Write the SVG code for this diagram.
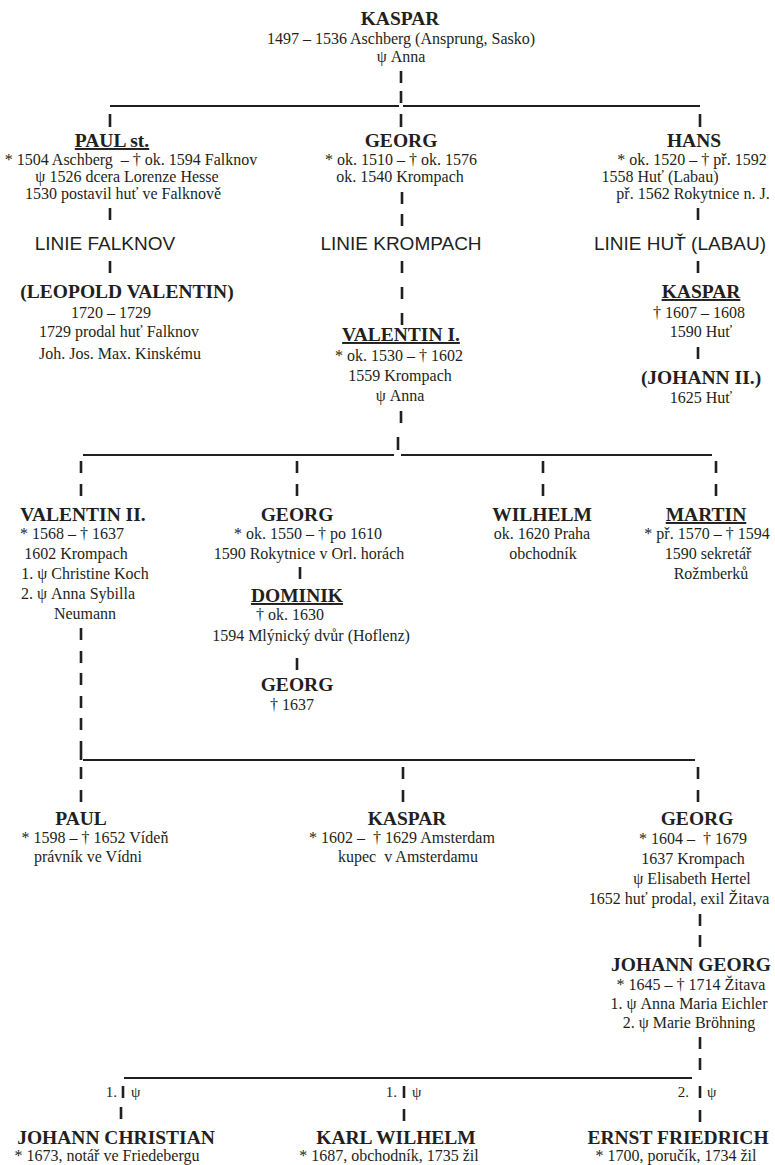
<svg xmlns="http://www.w3.org/2000/svg" width="775" height="1165" viewBox="0 0 775 1165">
<style>
text{fill:#231f20;text-anchor:middle;font-family:"Liberation Serif","Times New Roman",serif}
.n{font-size:19.5px;font-weight:bold}
.u{text-decoration:underline}
.d{font-size:16px}
.l{font-family:"Liberation Sans",Arial,sans-serif;font-size:19px}
.s{font-size:15px}
.st{text-anchor:start}
.en{text-anchor:end}
#connectors line{stroke:#231f20}
.h{stroke-width:2.2}
.v{stroke-width:2.6}
</style>
<rect width="775" height="1165" fill="#fff"/>
<g id="connectors">
<line class="v" x1="401" y1="71" x2="401" y2="83"/>
<line class="v" x1="401" y1="91" x2="401" y2="103"/>
<line class="h" x1="110" y1="106" x2="399" y2="106"/>
<line class="h" x1="403" y1="106" x2="700" y2="106"/>
<line class="v" x1="110" y1="114" x2="110" y2="127"/>
<line class="v" x1="401" y1="114" x2="401" y2="127"/>
<line class="v" x1="700" y1="114" x2="700" y2="127"/>
<line class="v" x1="110" y1="208" x2="110" y2="220"/>
<line class="v" x1="110" y1="261" x2="110" y2="273"/>
<line class="v" x1="402" y1="192" x2="402" y2="204"/>
<line class="v" x1="402" y1="214" x2="402" y2="226"/>
<line class="v" x1="402" y1="261" x2="402" y2="273"/>
<line class="v" x1="402" y1="287" x2="402" y2="299"/>
<line class="v" x1="402" y1="313" x2="402" y2="325"/>
<line class="v" x1="698" y1="208" x2="698" y2="220"/>
<line class="v" x1="698" y1="261" x2="698" y2="273"/>
<line class="v" x1="698" y1="347" x2="698" y2="359"/>
<line class="v" x1="401" y1="411" x2="401" y2="423"/>
<line class="v" x1="398" y1="437" x2="398" y2="450"/>
<line class="h" x1="83" y1="455" x2="394" y2="455"/>
<line class="h" x1="401" y1="455" x2="712" y2="455"/>
<line class="v" x1="81" y1="461" x2="81" y2="473"/>
<line class="v" x1="81" y1="484" x2="81" y2="496"/>
<line class="v" x1="297" y1="461" x2="297" y2="473"/>
<line class="v" x1="297" y1="484" x2="297" y2="496"/>
<line class="v" x1="543" y1="461" x2="543" y2="473"/>
<line class="v" x1="543" y1="484" x2="543" y2="496"/>
<line class="v" x1="716" y1="461" x2="716" y2="473"/>
<line class="v" x1="716" y1="484" x2="716" y2="496"/>
<line class="v" x1="300" y1="567" x2="300" y2="579"/>
<line class="v" x1="297" y1="658" x2="297" y2="670"/>
<line class="v" x1="81" y1="628" x2="81" y2="640"/>
<line class="v" x1="81" y1="651" x2="81" y2="663"/>
<line class="v" x1="81" y1="673" x2="81" y2="685"/>
<line class="v" x1="81" y1="696" x2="81" y2="708"/>
<line class="v" x1="81" y1="718" x2="81" y2="730"/>
<line class="v" x1="81" y1="741" x2="81" y2="760"/>
<line class="h" x1="83" y1="760" x2="695" y2="760"/>
<line class="v" x1="81" y1="767" x2="81" y2="779"/>
<line class="v" x1="81" y1="790" x2="81" y2="802"/>
<line class="v" x1="403" y1="767" x2="403" y2="779"/>
<line class="v" x1="403" y1="790" x2="403" y2="802"/>
<line class="v" x1="698" y1="767" x2="698" y2="779"/>
<line class="v" x1="698" y1="790" x2="698" y2="802"/>
<line class="v" x1="700" y1="914" x2="700" y2="926"/>
<line class="v" x1="700" y1="935" x2="700" y2="947"/>
<line class="v" x1="700" y1="1037" x2="700" y2="1049"/>
<line class="v" x1="700" y1="1058" x2="700" y2="1070"/>
<line class="h" x1="124" y1="1078" x2="692" y2="1078"/>
<line class="v" x1="123" y1="1086" x2="123" y2="1098"/>
<line class="v" x1="404" y1="1086" x2="404" y2="1098"/>
<line class="v" x1="700" y1="1086" x2="700" y2="1098"/>
<line class="v" x1="121" y1="1107" x2="121" y2="1119"/>
<line class="v" x1="404" y1="1109" x2="404" y2="1121"/>
<line class="v" x1="700" y1="1110" x2="700" y2="1122"/>
</g>
<g id="n-kaspar-root">
<text class="n" x="400" y="25">KASPAR</text>
<text class="d" x="401" y="44">1497 – 1536 Aschberg (Ansprung, Sasko)</text>
<text class="d" x="401" y="62">ψ Anna</text>
</g>
<g id="n-paul-st">
<text class="n u" x="112" y="147">PAUL st.</text>
<text class="d" x="131" y="165">* 1504 Aschberg&#160; – † ok. 1594 Falknov</text>
<text class="d" x="127" y="182">ψ 1526 dcera Lorenze Hesse</text>
<text class="d" x="123" y="199">1530 postavil huť ve Falknově</text>
</g>
<g id="n-linie-falknov"><text class="l" x="105" y="250">LINIE FALKNOV</text></g>
<g id="n-leopold">
<text class="n" x="127" y="298">(LEOPOLD VALENTIN)</text>
<text class="d" x="111" y="318">1720 – 1729</text>
<text class="d" x="119" y="337">1729 prodal huť Falknov</text>
<text class="d" x="120" y="359">Joh. Jos. Max. Kinskému</text>
</g>
<g id="n-georg-1">
<text class="n" x="401" y="147">GEORG</text>
<text class="d" x="401" y="165">* ok. 1510 – † ok. 1576</text>
<text class="d" x="400" y="182">ok. 1540 Krompach</text>
</g>
<g id="n-linie-krompach"><text class="l" x="401" y="250">LINIE KROMPACH</text></g>
<g id="n-valentin-1">
<text class="n u" x="401" y="341">VALENTIN I.</text>
<text class="d" x="399" y="361">* ok. 1530 – † 1602</text>
<text class="d" x="400" y="381">1559 Krompach</text>
<text class="d" x="400" y="401">ψ Anna</text>
</g>
<g id="n-hans">
<text class="n" x="694" y="147">HANS</text>
<text class="d" x="692" y="165">* ok. 1520 – † př. 1592</text>
<text class="d" x="660" y="182">1558 Huť (Labau)</text>
<text class="d" x="693" y="199">př. 1562 Rokytnice n. J.</text>
</g>
<g id="n-linie-hut"><text class="l" x="680" y="250">LINIE HUŤ (LABAU)</text></g>
<g id="n-kaspar-hut">
<text class="n u" x="701" y="298">KASPAR</text>
<text class="d" x="699" y="318">† 1607 – 1608</text>
<text class="d" x="701" y="337">1590 Huť</text>
</g>
<g id="n-johann-2">
<text class="n" x="701" y="384">(JOHANN II.)</text>
<text class="d" x="701" y="403">1625 Huť</text>
</g>
<g id="n-valentin-2">
<text class="n" x="83" y="521">VALENTIN II.</text>
<text class="d" x="72" y="539">* 1568 – † 1637</text>
<text class="d" x="76" y="559">1602 Krompach</text>
<text class="d" x="85" y="579">1. ψ Christine Koch</text>
<text class="d" x="78" y="599">2. ψ Anna Sybilla</text>
<text class="d" x="85" y="619">Neumann</text>
</g>
<g id="n-georg-2">
<text class="n" x="297" y="521">GEORG</text>
<text class="d" x="308" y="539">* ok. 1550 – † po 1610</text>
<text class="d" x="309" y="559">1590 Rokytnice v Orl. horách</text>
</g>
<g id="n-dominik">
<text class="n u" x="297" y="602">DOMINIK</text>
<text class="d" x="290" y="620">† ok. 1630</text>
<text class="d" x="311" y="641">1594 Mlýnický dvůr (Hoflenz)</text>
</g>
<g id="n-georg-3">
<text class="n" x="297" y="691">GEORG</text>
<text class="d" x="292" y="710">† 1637</text>
</g>
<g id="n-wilhelm">
<text class="n" x="542" y="521">WILHELM</text>
<text class="d" x="542" y="539">ok. 1620 Praha</text>
<text class="d" x="543" y="559">obchodník</text>
</g>
<g id="n-martin">
<text class="n u" x="706" y="521">MARTIN</text>
<text class="d" x="707" y="539">* př. 1570 – † 1594</text>
<text class="d" x="708" y="559">1590 sekretář</text>
<text class="d" x="711" y="579">Rožmberků</text>
</g>
<g id="n-paul">
<text class="n" x="81" y="825">PAUL</text>
<text class="d" x="95" y="843">* 1598 – † 1652 Vídeň</text>
<text class="d" x="88" y="862">právník ve Vídni</text>
</g>
<g id="n-kaspar-3">
<text class="n" x="407" y="825">KASPAR</text>
<text class="d" x="402" y="843">* 1602 –&#160; † 1629 Amsterdam</text>
<text class="d" x="408" y="862">kupec&#160; v Amsterdamu</text>
</g>
<g id="n-georg-4">
<text class="n" x="697" y="825">GEORG</text>
<text class="d" x="693" y="844">* 1604 –&#160; † 1679</text>
<text class="d" x="693" y="864">1637 Krompach</text>
<text class="d" x="692" y="884">ψ Elisabeth Hertel</text>
<text class="d" x="679" y="904">1652 huť prodal, exil Žitava</text>
</g>
<g id="n-johann-georg">
<text class="n" x="691" y="971">JOHANN GEORG</text>
<text class="d" x="691" y="990">* 1645 – † 1714 Žitava</text>
<text class="d" x="689" y="1009">1. ψ Anna Maria Eichler</text>
<text class="d" x="689" y="1028">2. ψ Marie Bröhning</text>
</g>
<g id="marriage-labels">
<text class="s en" x="117" y="1097">1.</text>
<text class="s st" x="131" y="1097">ψ</text>
<text class="s en" x="397" y="1097">1.</text>
<text class="s st" x="412" y="1097">ψ</text>
<text class="s en" x="689" y="1097">2.</text>
<text class="s st" x="707" y="1097">ψ</text>
</g>
<g id="n-johann-christian">
<text class="n" x="116" y="1144">JOHANN CHRISTIAN</text>
<text class="d" x="107" y="1161">* 1673, notář ve Friedebergu</text>
</g>
<g id="n-karl-wilhelm">
<text class="n" x="396" y="1144">KARL WILHELM</text>
<text class="d" x="389" y="1161">* 1687, obchodník, 1735 žil</text>
</g>
<g id="n-ernst-friedrich">
<text class="n" x="678" y="1144">ERNST FRIEDRICH</text>
<text class="d" x="676" y="1161">* 1700, poručík, 1734 žil</text>
</g>
</svg>
